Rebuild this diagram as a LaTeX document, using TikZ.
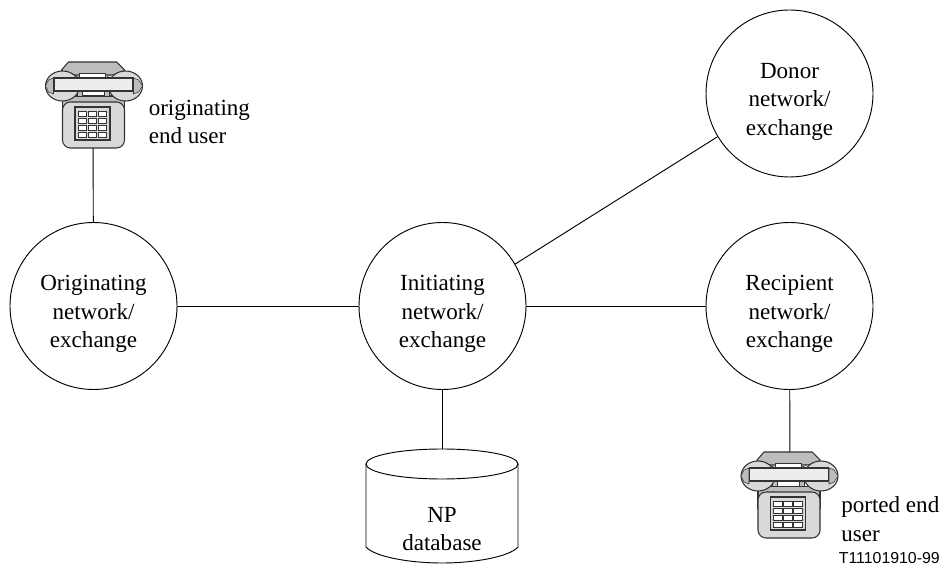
\documentclass[tikz,border=0pt]{standalone}
\usepackage{fontspec}
\setmainfont{Liberation Serif}
\newfontfamily\labelsans{Liberation Sans}
\definecolor{phonelight}{gray}{0.93}
\definecolor{phonegray}{gray}{0.85}
\definecolor{phonedark}{gray}{0.74}
\definecolor{phoneline}{gray}{0.2}
\tikzset{
    bodytext/.style={align=center,inner sep=0pt,font=\fontsize{17.3}{21.4}\selectfont},
    nettext/.style={bodytext,yshift=-6pt},
    netnode/.style={draw,circle,minimum size=125.25pt,inner sep=0pt,line width=0.7pt},
    enduser/.style={bodytext,anchor=west,align=left},
    link/.style={line width=0.7pt},
    telephone/.pic={
        \begin{scope}[draw=phoneline]
        \draw[thick,fill=phonedark](-25,-86)--(23,-86)--(31,-78)--(27,-73)--(-28,-73)--(-32,-78)--cycle;
        \draw[fill=white](-14,-75)rectangle(12,-68);
        \draw[fill=white](-29,-76)--(-15,-71)--(-15,-66)--(-24,-68)--cycle;
        \draw[fill=white](27,-76)--(13,-71)--(13,-66)--(22,-68)--cycle;
        \draw[thick,fill=phonedark](-31,-52)rectangle(31,-30);
        \fill[white](-20,-58)rectangle(20,-52.5);
        \draw[fill=phonedark](-16.5,-60)rectangle(-11.5,-52);
        \draw[fill=phonedark](10.5,-60)rectangle(15.5,-52);
        \draw[thick,fill=phonegray](-31,-62)ellipse[x radius=17,y radius=15];
        \draw[thick,fill=phonegray](32,-62)ellipse[x radius=17,y radius=15];
        \draw[fill=phonedark](-40,-70)--(-45,-68)--(-48,-62)--(-45,-56)--(-40,-54)--cycle;
        \draw[fill=phonedark](40,-70)--(45,-68)--(49,-62)--(45,-56)--(40,-54)--cycle;
        \draw[thick,fill=phonelight](-39.5,-70)rectangle(39.5,-57);
        \draw[thick,fill=phonegray,rounded corners=6](-31,-46)rectangle(31,0);
        \draw[thick,fill=phonegray](-18.5,-41)rectangle(16.5,-8);
        \foreach \row in {0,1,2,3}
            \foreach \col in {0,1,2}
                \draw[fill=white](-15.5+\col*10,-37+\row*7)rectangle++(8.5,5);
        \end{scope}
    }
}
\begin{document}
\begin{tikzpicture}[x=0.75pt,y=-0.75pt]
    \useasboundingbox(0,0)rectangle(942,566);
    \node[netnode,label={[nettext]center:Originating\\network/\\exchange}](orig)at(93.5,306){};
    \node[netnode,label={[nettext]center:Initiating\\network/\\exchange}](init)at(442.5,306){};
    \node[netnode,label={[nettext]center:Recipient\\network/\\exchange}](recip)at(789.5,306){};
    \node[netnode,label={[nettext]center:Donor\\network/\\exchange}](donor)at(789.5,93.5){};
    \coordinate(phoneA)at(93,100);
    \coordinate(phoneB)at(790,480);
    \coordinate(dbtop)at(442.5,450);
    \draw[link](orig)--(init);
    \draw[link](init)--(recip);
    \draw[link](init.30)--(donor.211);
    \draw[link](orig)--(phoneA);
    \draw[link](recip)--(phoneB);
    \draw[link](init)--(dbtop);
    % database
    \draw[link,fill=white](366,464)--(366,547)..controls(375,557)and(410,563)..(442,563)..controls(474,563)and(509,557)..(518,547)--(518,464);
    \draw[link,fill=white](442,464)ellipse[x radius=76,y radius=15];
    \node[bodytext](dbtext)at(442,529){NP\\database};
    \pic at(93.5,148){telephone};
    \pic at(789,538){telephone};
    \node[enduser](origtext)at(148.5,122){originating\\end user};
    \node[enduser](porttext)at(841,519){ported end\\user};
    \node[anchor=east,inner sep=0pt,font=\labelsans\fontsize{11.9}{14}\selectfont](figid)at(940,558){T11101910-99};
\end{tikzpicture}
\end{document}
